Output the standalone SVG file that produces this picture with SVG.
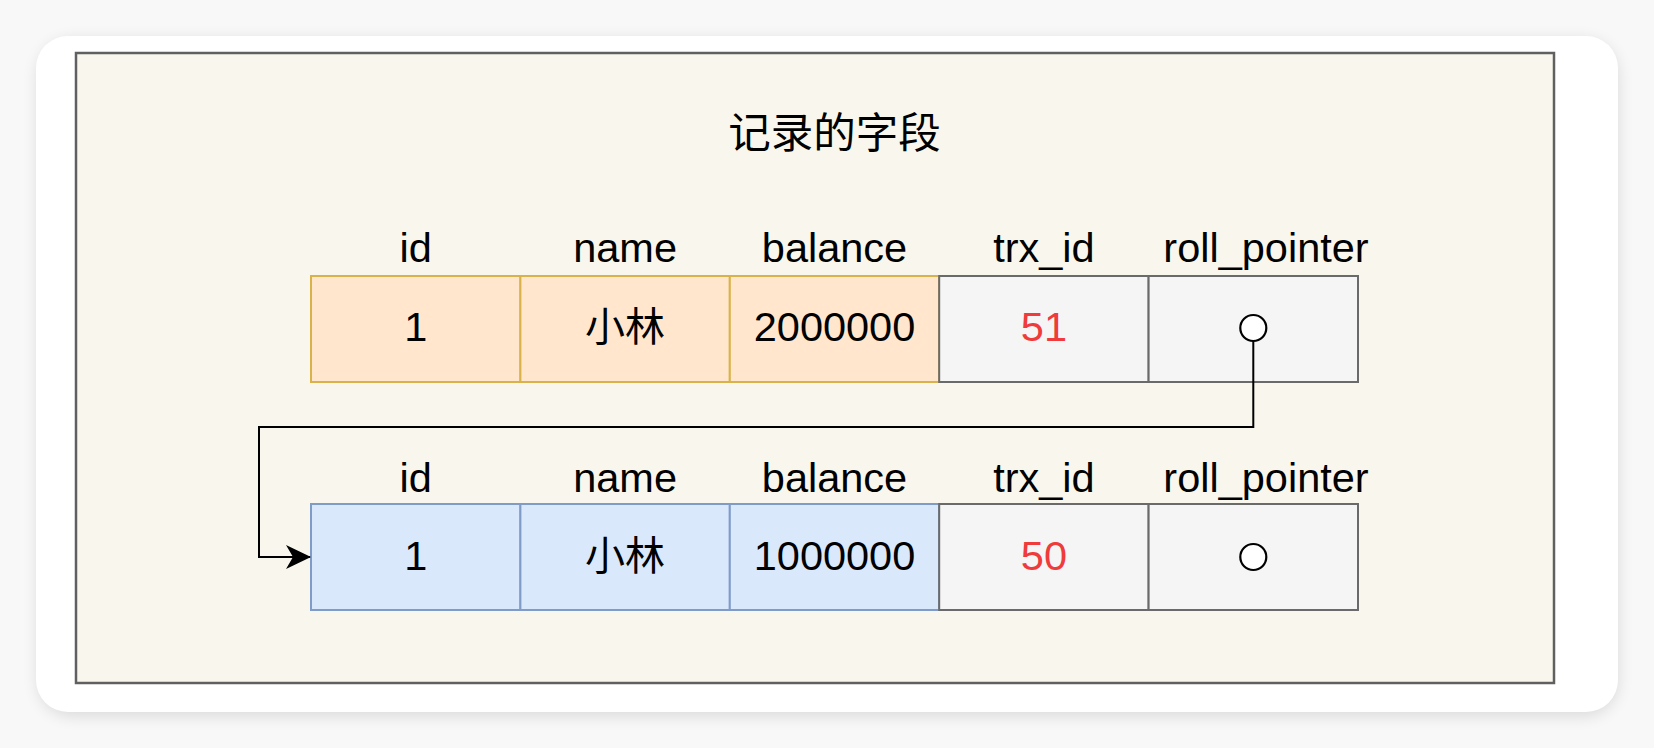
<svg xmlns="http://www.w3.org/2000/svg" width="1654" height="748" viewBox="0 0 1654 748">
  <defs>
    <filter id="shadow" x="-5%" y="-5%" width="110%" height="115%">
      <feGaussianBlur stdDeviation="8"/>
    </filter>
    <marker id="arrow" viewBox="0 0 26 26" refX="24" refY="13" markerWidth="26" markerHeight="26" markerUnits="userSpaceOnUse" orient="auto">
      <path d="M0,1 L25,13 L0,25 L7,13 Z" fill="#000"/>
    </marker>
    <style>
      .t { font-family: "Liberation Sans", "Noto Sans CJK SC", sans-serif; font-size: 41.5px; fill: #000; text-anchor: middle; }
      .cn { font-family: "Noto Sans CJK SC", sans-serif; font-size: 40px; fill: #000; text-anchor: middle; }
      .red { fill: #ef3b3b; }
      .org { fill: #ffe6cc; stroke: #d9b24a; stroke-width: 2; }
      .blu { fill: #dae8fc; stroke: #7f9cc8; stroke-width: 2; }
      .gry { fill: #f5f5f5; stroke: #6a6a6a; stroke-width: 2; }
      .dot { fill: #fff; stroke: #000; stroke-width: 2.2; }
    </style>
  </defs>
  <rect x="0" y="0" width="1654" height="748" fill="#f8f8f8"/>
  <rect x="38" y="40" width="1580" height="676" rx="34" fill="#000" opacity="0.12" filter="url(#shadow)"/>
  <rect x="36" y="36" width="1582" height="676" rx="32" fill="#ffffff"/>
  <g id="container">
    <rect x="76" y="53" width="1478" height="630" fill="#f9f7ed" stroke="#606060" stroke-width="2.5"/>
    <text class="cn" x="834.5" y="148" style="font-size:42.5px">记录的字段</text>
  </g>
  <g id="row1">
    <text class="t" x="415.7" y="262">id</text>
    <text class="t" x="625.1" y="262">name</text>
    <text class="t" x="834.5" y="262">balance</text>
    <text class="t" x="1043.9" y="262">trx_id</text>
    <text class="t" x="1266" y="262">roll_pointer</text>
    <rect class="org" x="311" y="276" width="209.4" height="106"/>
    <rect class="org" x="520.4" y="276" width="209.4" height="106"/>
    <rect class="org" x="729.8" y="276" width="209.4" height="106"/>
    <rect class="gry" x="939.2" y="276" width="209.4" height="106"/>
    <rect class="gry" x="1148.6" y="276" width="209.4" height="106"/>
    <text class="t" x="415.7" y="341">1</text>
    <text class="cn" x="625.1" y="341">小林</text>
    <text class="t" x="834.5" y="341">2000000</text>
    <text class="t red" x="1043.9" y="341">51</text>
    <circle class="dot" cx="1253.3" cy="328" r="13"/>
  </g>
  <g id="row2">
    <text class="t" x="415.7" y="492">id</text>
    <text class="t" x="625.1" y="492">name</text>
    <text class="t" x="834.5" y="492">balance</text>
    <text class="t" x="1043.9" y="492">trx_id</text>
    <text class="t" x="1266" y="492">roll_pointer</text>
    <rect class="blu" x="311" y="504" width="209.4" height="106"/>
    <rect class="blu" x="520.4" y="504" width="209.4" height="106"/>
    <rect class="blu" x="729.8" y="504" width="209.4" height="106"/>
    <rect class="gry" x="939.2" y="504" width="209.4" height="106"/>
    <rect class="gry" x="1148.6" y="504" width="209.4" height="106"/>
    <text class="t" x="415.7" y="570">1</text>
    <text class="cn" x="625.1" y="570">小林</text>
    <text class="t" x="834.5" y="570">1000000</text>
    <text class="t red" x="1043.9" y="570">50</text>
    <circle class="dot" cx="1253.3" cy="557" r="13"/>
  </g>
  <g id="connectors">
    <path d="M1253.3,341 L1253.3,427 L259,427 L259,557 L310,557" fill="none" stroke="#000" stroke-width="2" marker-end="url(#arrow)"/>
  </g>
</svg>
